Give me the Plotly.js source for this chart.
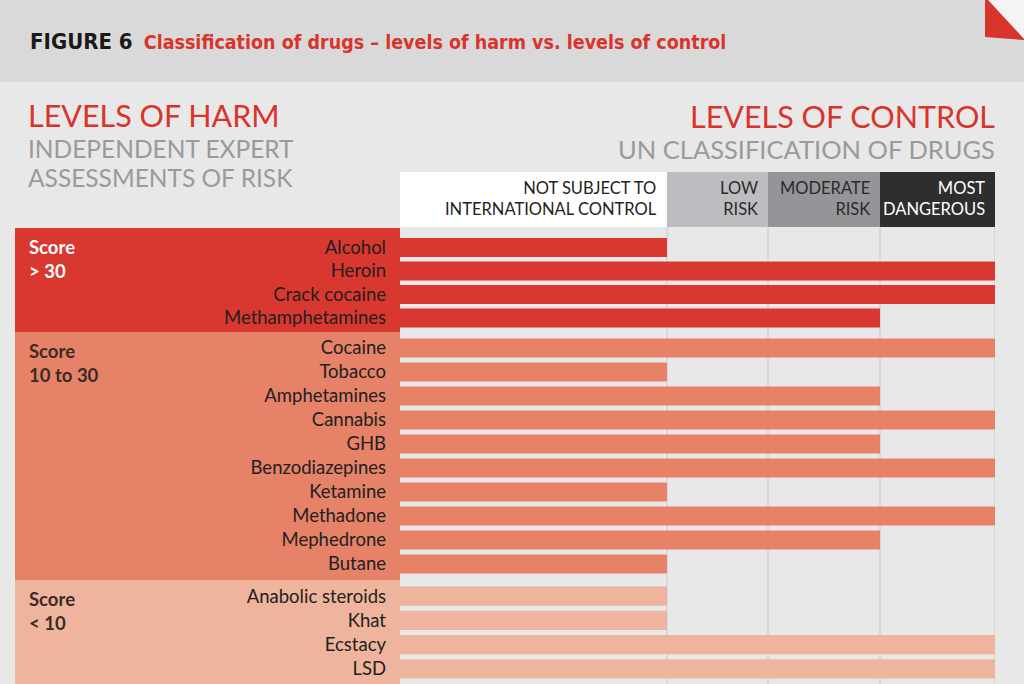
<!DOCTYPE html>
<html>
<head>
<meta charset="utf-8">
<script src="https://cdn.plot.ly/plotly-3.0.1.min.js"></script>
<style>
html,body{margin:0;padding:0;background:#e8e8e8;}
#chart{width:1024px;height:684px;}
</style>
</head>
<body>
<div id="chart"></div>
<script>
// ---- data ----
const columns = ['NOT SUBJECT TO<br>INTERNATIONAL CONTROL', 'LOW<br>RISK', 'MODERATE<br>RISK', 'MOST<br>DANGEROUS'];
const groupNames = ['Score<br>&gt; 30', 'Score<br>10 to 30', 'Score<br>&lt; 10'];
const drugsHigh = ['Alcohol', 'Heroin', 'Crack cocaine', 'Methamphetamines'];
const levelsHigh = [0, 3, 3, 2];
const drugsMid = ['Cocaine', 'Tobacco', 'Amphetamines', 'Cannabis', 'GHB', 'Benzodiazepines', 'Ketamine', 'Methadone', 'Mephedrone', 'Butane'];
const levelsMid = [3, 0, 2, 3, 2, 3, 0, 3, 2, 0];
const drugsLow = ['Anabolic steroids', 'Khat', 'Ecstacy', 'LSD'];
const levelsLow = [0, 0, 3, 3];

// ---- layout constants (column widths in axis units) ----
const colEdges = [0, 267, 368, 480, 595];
const W = 1024, H = 684;
const px = v => v / W;
const py = v => 1 - v / H;
const FONT = 'Lato, "Open Sans", sans-serif';

const groupColors = ['#d93831', '#e58268', '#eeb49d'];
const groupTextColors = ['#ffffff', '#3b2a25', '#3b2a25'];
const groupBands = [[228, 332], [332, 580], [580, 684]];
const groupDomains = [[235.75, 329.75], [336, 576], [584, 681]];
const groups = [[drugsHigh, levelsHigh], [drugsMid, levelsMid], [drugsLow, levelsLow]];
const yNames = ['y', 'y2', 'y3'];

const traces = groups.map((g, i) => ({
  type: 'bar',
  orientation: 'h',
  y: g[0],
  x: g[1].map(l => colEdges[l + 1]),
  xaxis: 'x',
  yaxis: yNames[i],
  marker: {color: groupColors[i], line: {width: 0}},
  hoverinfo: 'skip',
  showlegend: false
}));

const layout = {
  width: W, height: H,
  margin: {l: 0, r: 0, t: 0, b: 0},
  paper_bgcolor: '#e8e8e8',
  plot_bgcolor: 'rgba(0,0,0,0)',
  bargap: 0.2,
  showlegend: false,
  xaxis: {domain: [px(400), px(995)], range: [0, colEdges[4]], showgrid: false, zeroline: false,
          showticklabels: false, ticks: '', anchor: 'y3', fixedrange: true},
  shapes: [],
  annotations: []
};
groupDomains.forEach((d, i) => {
  const key = i === 0 ? 'yaxis' : 'yaxis' + (i + 1);
  layout[key] = {
    type: 'category', autorange: 'reversed',
    domain: [py(d[1]), py(d[0])],
    anchor: 'x', showgrid: false, zeroline: false, showline: false, ticks: '',
    ticklabelstandoff: 13,
    tickfont: {family: FONT, size: 18.5, color: '#231f20'},
    fixedrange: true
  };
});

const S = layout.shapes, A = layout.annotations;
// header band
S.push({type: 'rect', xref: 'paper', yref: 'paper', x0: 0, x1: 1, y0: py(82), y1: 1, fillcolor: '#d9d9d9', line: {width: 0}, layer: 'below'});
// page corner
S.push({type: 'path', xref: 'paper', yref: 'paper', path: `M${px(988)},1 L1,1 L1,${py(39)} Z`, fillcolor: '#f4f4f4', line: {width: 0}, layer: 'below'});
S.push({type: 'path', xref: 'paper', yref: 'paper', path: `M${px(985)},1 L${px(988)},1 L1,${py(39)} L1,${py(40)} L${px(985)},${py(37)} Z`, fillcolor: '#d9342c', line: {width: 0}, layer: 'below'});
// group bands on the left
groupBands.forEach((b, i) => {
  S.push({type: 'rect', xref: 'paper', yref: 'paper', x0: px(15), x1: px(400), y0: py(b[1]), y1: py(b[0]), fillcolor: groupColors[i], line: {width: 0}, layer: 'below'});
  A.push({xref: 'paper', yref: 'paper', x: px(27), y: py(b[0] + 6), xanchor: 'left', yanchor: 'top', align: 'left',
          text: '<b>' + groupNames[i] + '</b>', showarrow: false,
          font: {family: FONT, size: 18.5, color: groupTextColors[i]}});
});
// header cells
const cellFill = ['#ffffff', '#bdbdc1', '#959599', '#2e2e2e'];
const cellText = ['#231f20', '#2a2a2a', '#2a2a2a', '#ffffff'];
columns.forEach((c, i) => {
  S.push({type: 'rect', xref: 'x', yref: 'paper', x0: colEdges[i], x1: colEdges[i + 1], y0: py(227), y1: py(172), fillcolor: cellFill[i], line: {width: 0}, layer: 'below'});
  A.push({xref: 'x', yref: 'paper', x: colEdges[i + 1], xshift: -8, y: py(198), xanchor: 'right', yanchor: 'middle', align: 'right',
          text: c, showarrow: false, font: {family: FONT, size: 16.5, color: cellText[i]}});
});
// vertical grid lines
colEdges.slice(1).forEach(e => {
  S.push({type: 'line', xref: 'x', yref: 'paper', x0: e, x1: e, y0: 0, y1: py(227), line: {color: '#cacaca', width: 1}, layer: 'below'});
});
// titles
A.push({xref: 'paper', yref: 'paper', x: px(28), y: py(42), xanchor: 'left', yanchor: 'middle', showarrow: false,
        text: '<b><span style="font-size:22px">FIGURE 6</span></b>  <b><span style="color:#d9342c">Classification of drugs – levels of harm vs. levels of control</span></b>',
        font: {family: '"DejaVu Sans Condensed", "Liberation Sans Narrow", sans-serif', size: 19.5, color: '#1a1a1a'}});
A.push({xref: 'paper', yref: 'paper', x: px(27), y: py(115), xanchor: 'left', yanchor: 'middle', showarrow: false,
        text: 'LEVELS OF HARM', font: {family: FONT, size: 30.5, color: '#d9342c'}, borderpad: 0});
A.push({xref: 'paper', yref: 'paper', x: px(27), y: py(149), xanchor: 'left', yanchor: 'middle', showarrow: false,
        text: 'INDEPENDENT EXPERT', font: {family: FONT, size: 24.5, color: '#9a9a9a'}, borderpad: 0});
A.push({xref: 'paper', yref: 'paper', x: px(27), y: py(177), xanchor: 'left', yanchor: 'middle', showarrow: false,
        text: 'ASSESSMENTS OF RISK', font: {family: FONT, size: 24.5, color: '#9a9a9a'}, borderpad: 0});
A.push({xref: 'paper', yref: 'paper', x: px(997), y: py(116), xanchor: 'right', yanchor: 'middle', showarrow: false,
        text: 'LEVELS OF CONTROL', font: {family: FONT, size: 30.5, color: '#d9342c'}});
A.push({xref: 'paper', yref: 'paper', x: px(997), y: py(149), xanchor: 'right', yanchor: 'middle', showarrow: false,
        text: 'UN CLASSIFICATION OF DRUGS', font: {family: FONT, size: 25.5, color: '#9a9a9a'}});

Plotly.newPlot('chart', traces, layout, {displayModeBar: false, staticPlot: true});
</script>
</body>
</html>
